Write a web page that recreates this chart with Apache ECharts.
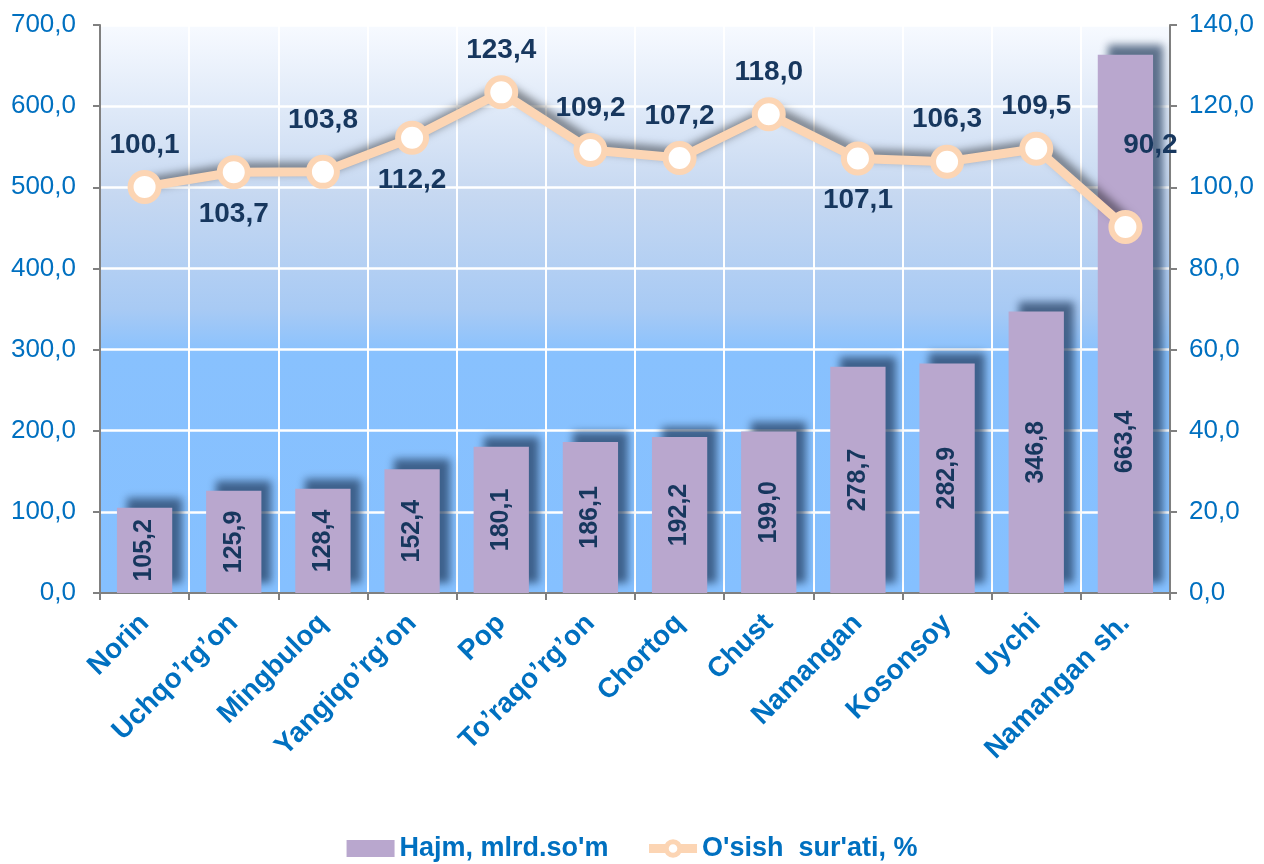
<!DOCTYPE html>
<html>
<head>
<meta charset="utf-8">
<script src="https://cdn.jsdelivr.net/npm/echarts@6/dist/echarts.min.js"></script>
<style>
  html, body { margin: 0; padding: 0; background: #fff; }
  #chart { width: 1264px; height: 864px; }
</style>
</head>
<body>
<div id="chart"></div>
<script>
// ── Data ──────────────────────────────────────────────────────────────────────
const districts = ['Norin', 'Uchqo\u2019rg\u2019on', 'Mingbuloq', 'Yangiqo\u2019rg\u2019on', 'Pop',
  'To\u2019raqo\u2019rg\u2019on', 'Chortoq', 'Chust', 'Namangan', 'Kosonsoy', 'Uychi', 'Namangan sh.'];
const volume = [105.2, 125.9, 128.4, 152.4, 180.1, 186.1, 192.2, 199.0, 278.7, 282.9, 346.8, 663.4];
const growth = [100.1, 103.7, 103.8, 112.2, 123.4, 109.2, 107.2, 118.0, 107.1, 106.3, 109.5, 90.2];
// where each growth label sits relative to its point
const growthLabelPos = ['top', 'bottom', 'top', 'bottom', 'top', 'top', 'top', 'top', 'bottom', 'top', 'top', 'top'];

const BLUE = '#0070C0';
const NAVY = '#17375E';
const PEACH = '#FCD5B4';
const fmt = v => v.toFixed(1).replace('.', ',');

const chart = echarts.init(document.getElementById('chart'), null, { renderer: 'canvas' });

chart.setOption({
  animation: false,
  textStyle: { fontFamily: '"Liberation Sans", Arial, sans-serif' },
  grid: {
    left: 100, right: 94, top: 25, bottom: 271,
    show: true, borderWidth: 0,
    backgroundColor: new echarts.graphic.LinearGradient(0, 0, 0, 1, [
      { offset: 0, color: '#F7FAFF' },
      { offset: 0.3, color: '#C6D8F1' },
      { offset: 0.5, color: '#A8CAF4' },
      { offset: 0.58, color: '#88C1FE' },
      { offset: 1, color: '#85C0FF' },
    ]),
  },
  legend: {
    bottom: -3, left: 'center',
    itemWidth: 48, itemHeight: 17, itemGap: 36,
    textStyle: { color: BLUE, fontSize: 27, fontWeight: 'bold' },
    data: [
      { name: 'Hajm, mlrd.so\'m', icon: 'rect' },
      { name: 'O\'sish  sur\'ati, %', lineStyle: { width: 9, color: PEACH },
        itemStyle: { color: '#FFFFFF', borderColor: PEACH, borderWidth: 5 } },
    ],
  },
  xAxis: {
    type: 'category',
    data: districts,
    axisLine: { lineStyle: { color: '#808080', width: 2 } },
    axisTick: { show: true, length: 7, lineStyle: { color: '#808080', width: 2 } },
    splitLine: { show: true, lineStyle: { color: '#FFFFFF', width: 2 } },
    axisLabel: {
      rotate: 45, interval: 0, margin: 26,
      color: BLUE, fontSize: 28, fontWeight: 'bold',
    },
  },
  yAxis: [
    {
      type: 'value', min: 0, max: 700, interval: 100,
      axisLine: { show: true, lineStyle: { color: '#808080', width: 2 } },
      axisTick: { show: true, length: 7, lineStyle: { color: '#808080', width: 2 } },
      splitLine: { lineStyle: { color: '#FFFFFF', width: 2.5 } },
      axisLabel: { color: BLUE, fontSize: 26, margin: 24, formatter: v => fmt(v) },
    },
    {
      type: 'value', min: 0, max: 140, interval: 20,
      axisLine: { show: true, lineStyle: { color: '#808080', width: 2 } },
      axisTick: { show: true, length: 7, lineStyle: { color: '#808080', width: 2 } },
      splitLine: { show: false },
      axisLabel: { color: BLUE, fontSize: 26, margin: 19, formatter: v => fmt(v) },
    },
  ],
  series: [
    {
      name: 'Hajm, mlrd.so\'m',
      type: 'bar',
      barWidth: '62%',
      data: volume.map((v, i) => i === volume.length - 1
        ? { value: v, label: { offset: [-118, 0] } }
        : v),
      itemStyle: {
        color: '#B9A7CE',
        shadowColor: 'rgba(30, 55, 90, 0.7)',
        shadowBlur: 8, shadowOffsetX: 10, shadowOffsetY: -10,
      },
      label: {
        show: true, position: 'inside', rotate: 90,
        color: NAVY, fontSize: 25, fontWeight: 'bold',
        formatter: p => fmt(p.value),
      },
    },
    {
      name: 'O\'sish  sur\'ati, %',
      type: 'line',
      yAxisIndex: 1,
      symbol: 'circle', symbolSize: 28,
      data: growth.map((v, i) => {
        const item = { value: v, label: { position: growthLabelPos[i] } };
        if (i === 2) item.label.distance = 21;
        if (i === growth.length - 1) item.label.offset = [25, -40];
        return item;
      }),
      lineStyle: {
        color: PEACH, width: 9,
        shadowColor: 'rgba(0, 0, 0, 0.55)', shadowBlur: 10, shadowOffsetX: 4, shadowOffsetY: -4,
      },
      itemStyle: {
        color: '#FFFFFF', borderColor: PEACH, borderWidth: 6,
      },
      label: {
        show: true, distance: 11,
        color: NAVY, fontSize: 28, fontWeight: 'bold',
        formatter: p => fmt(p.value),
      },
    },
  ],
});
</script>
</body>
</html>
